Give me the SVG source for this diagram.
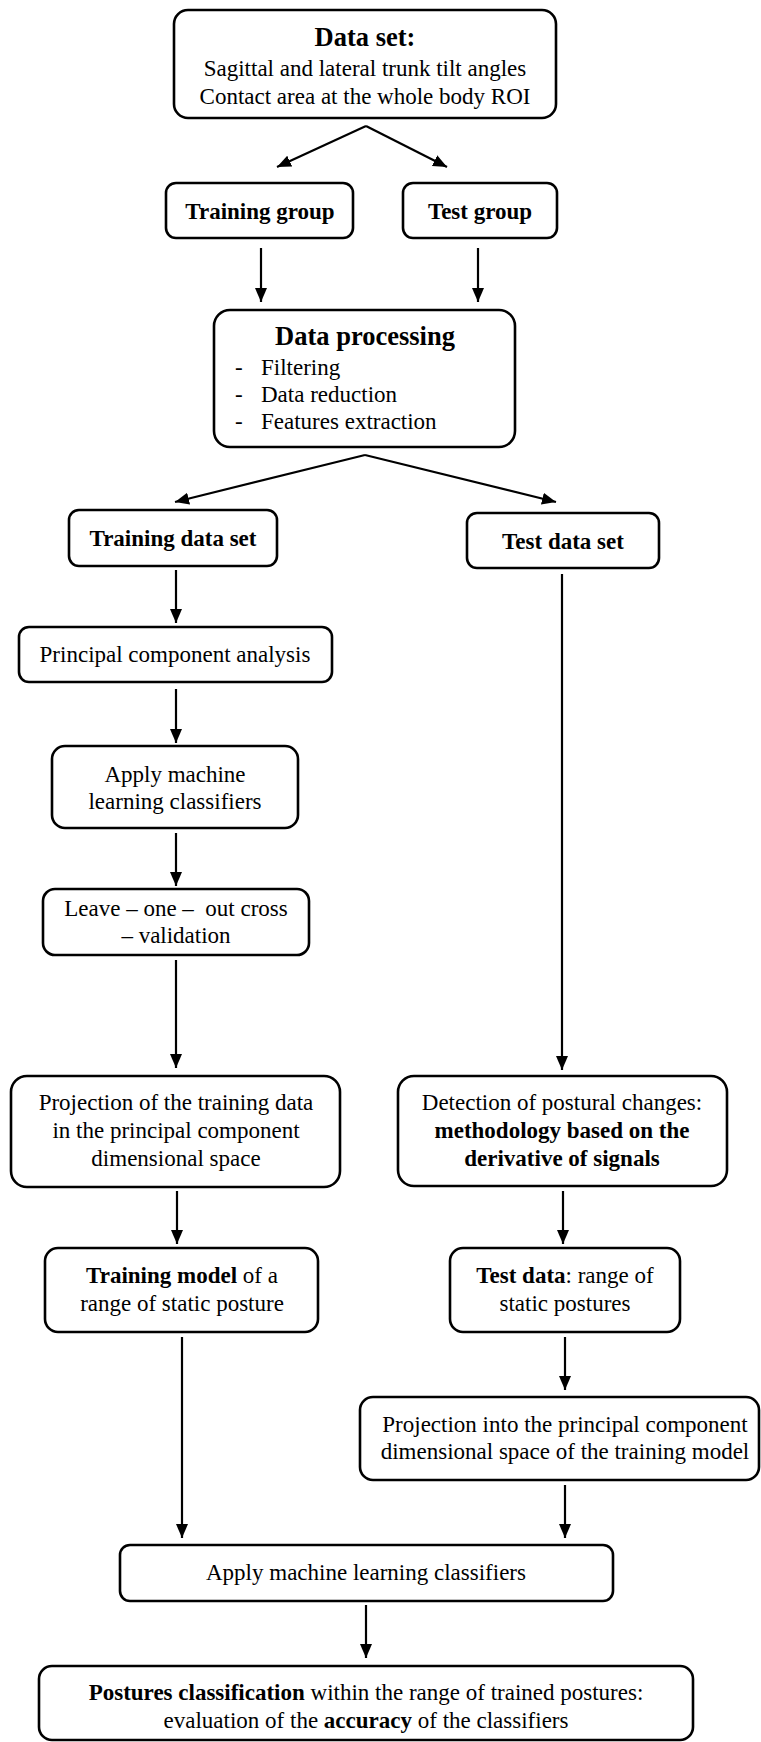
<svg xmlns="http://www.w3.org/2000/svg" width="761" height="1742" viewBox="0 0 761 1742">
<defs>
<marker id="ah" markerUnits="userSpaceOnUse" markerWidth="15" markerHeight="13" refX="14" refY="6" orient="auto">
<path d="M0,0 L14,6 L0,12 z" fill="#000"/>
</marker>
<style>
.box{fill:#fff;stroke:#000;stroke-width:2.6}
text{font-family:"Liberation Serif","Times New Roman",serif;font-size:23px;fill:#000;text-anchor:middle}
.h{font-size:26.5px;font-weight:bold}
.b{font-weight:bold}
.l{text-anchor:start}
.c{stroke:#000;stroke-width:2.2;fill:none;marker-end:url(#ah)}
</style>
</defs>
<rect width="761" height="1742" fill="#fff"/>
<g id="connectors">
<line class="c" x1="366" y1="126" x2="277" y2="167"/>
<line class="c" x1="366" y1="126" x2="447" y2="167"/>
<line class="c" x1="261" y1="248" x2="261" y2="302"/>
<line class="c" x1="478" y1="248" x2="478" y2="302"/>
<line class="c" x1="365" y1="455" x2="175" y2="502"/>
<line class="c" x1="365" y1="455" x2="556" y2="502"/>
<line class="c" x1="176" y1="570" x2="176" y2="623"/>
<line class="c" x1="176" y1="689" x2="176" y2="743"/>
<line class="c" x1="176" y1="833" x2="176" y2="886"/>
<line class="c" x1="176" y1="960" x2="176" y2="1068"/>
<line class="c" x1="562" y1="574" x2="562" y2="1070"/>
<line class="c" x1="177" y1="1191" x2="177" y2="1244"/>
<line class="c" x1="563" y1="1191" x2="563" y2="1244"/>
<line class="c" x1="182" y1="1337" x2="182" y2="1538"/>
<line class="c" x1="565" y1="1337" x2="565" y2="1390"/>
<line class="c" x1="565" y1="1485" x2="565" y2="1538"/>
<line class="c" x1="366" y1="1605" x2="366" y2="1658"/>
</g>
<g id="dataset">
<rect class="box" x="174" y="10" width="382" height="108" rx="14"/>
<text class="h" x="365" y="46">Data set:</text>
<text x="365" y="76">Sagittal and lateral trunk tilt angles</text>
<text x="365" y="104">Contact area at the whole body ROI</text>
</g>
<g id="training-group">
<rect class="box" x="166" y="183" width="187" height="55" rx="10"/>
<text class="b" x="260" y="219">Training group</text>
</g>
<g id="test-group">
<rect class="box" x="403" y="183" width="154" height="55" rx="10"/>
<text class="b" x="480" y="219">Test group</text>
</g>
<g id="data-processing">
<rect class="box" x="214" y="310" width="301" height="137" rx="16"/>
<text class="h" x="365" y="345">Data processing</text>
<text class="l" x="235" y="375">-</text>
<text class="l" x="261" y="375">Filtering</text>
<text class="l" x="235" y="402">-</text>
<text class="l" x="261" y="402">Data reduction</text>
<text class="l" x="235" y="429">-</text>
<text class="l" x="261" y="429">Features extraction</text>
</g>
<g id="training-data-set">
<rect class="box" x="69" y="510" width="208" height="56" rx="10"/>
<text class="b" x="173" y="546">Training data set</text>
</g>
<g id="test-data-set">
<rect class="box" x="467" y="513" width="192" height="55" rx="10"/>
<text class="b" x="563" y="549">Test data set</text>
</g>
<g id="pca">
<rect class="box" x="19" y="627" width="313" height="55" rx="10"/>
<text x="175" y="662">Principal component analysis</text>
</g>
<g id="apply-ml-1">
<rect class="box" x="52" y="746" width="246" height="82" rx="13"/>
<text x="175" y="782">Apply machine</text>
<text x="175" y="809">learning classifiers</text>
</g>
<g id="loocv">
<rect class="box" x="43" y="889" width="266" height="66" rx="12"/>
<text x="176" y="916" xml:space="preserve">Leave – one –  out cross</text>
<text x="176" y="943">– validation</text>
</g>
<g id="projection-training">
<rect class="box" x="11" y="1076" width="329" height="111" rx="16"/>
<text x="176" y="1110">Projection of the training data</text>
<text x="176" y="1138">in the principal component</text>
<text x="176" y="1166">dimensional space</text>
</g>
<g id="detection">
<rect class="box" x="398" y="1076" width="329" height="110" rx="16"/>
<text x="562" y="1110">Detection of postural changes:</text>
<text class="b" x="562" y="1138">methodology based on the</text>
<text class="b" x="562" y="1166">derivative of signals</text>
</g>
<g id="training-model">
<rect class="box" x="45" y="1248" width="273" height="84" rx="13"/>
<text x="182" y="1283"><tspan class="b">Training model</tspan> of a</text>
<text x="182" y="1311">range of static posture</text>
</g>
<g id="test-data">
<rect class="box" x="450" y="1248" width="230" height="84" rx="13"/>
<text x="565" y="1283"><tspan class="b">Test data</tspan>: range of</text>
<text x="565" y="1311">static postures</text>
</g>
<g id="projection-test">
<rect class="box" x="360" y="1397" width="399" height="83" rx="13"/>
<text x="565" y="1432">Projection into the principal component</text>
<text x="565" y="1459">dimensional space of the training model</text>
</g>
<g id="apply-ml-2">
<rect class="box" x="120" y="1545" width="493" height="56" rx="10"/>
<text x="366" y="1580">Apply machine learning classifiers</text>
</g>
<g id="classification">
<rect class="box" x="39" y="1666" width="654" height="74" rx="13"/>
<text x="366" y="1700"><tspan class="b">Postures classification</tspan> within the range of trained postures:</text>
<text x="366" y="1728">evaluation of the <tspan class="b">accuracy</tspan> of the classifiers</text>
</g>
</svg>
